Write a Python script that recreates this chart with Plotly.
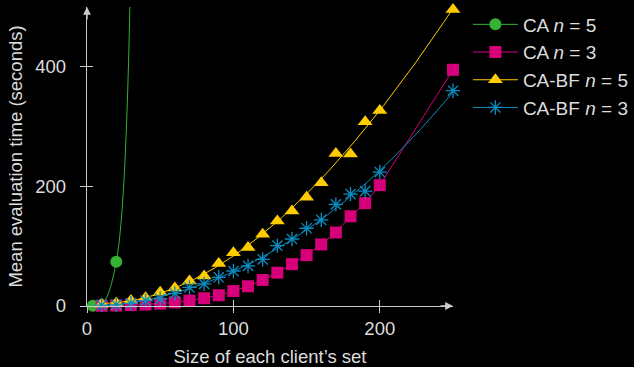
import numpy as np
import plotly.graph_objects as go

# Set sizes (per client) and mean evaluation times in seconds
ca5_x = [4, 10, 20, 30]
ca5_y = [0.5, 2, 74, 600]

sizes = [10, 20, 30, 40, 50, 60, 70, 80, 90, 100, 110, 120, 130, 140, 150,
         160, 170, 180, 190, 200, 250]
ca3_y = [0.3, 0.8, 1.5, 2.5, 4, 6, 9, 13, 18, 25, 33, 43.5, 55.7, 70, 85,
         103, 123, 150, 172, 202, 395]
cabf5_y = [3, 5, 9, 14, 23, 30, 42, 50, 71, 89, 98, 120, 142, 159, 182,
           206, 255, 254, 308, 327, 496]
cabf3_y = [1.5, 2, 4.5, 9, 12, 21, 31, 37, 48, 58.5, 67, 78, 101, 112, 130,
           144, 170, 187, 192, 224, 360]

x_ticks = [0, 100, 200]
y_ticks = [0, 200, 400]

GREEN = "#33b233"
MAGENTA = "#d6007a"
GOLD = "#ffcc00"
BLUE = "#0b8cbf"
AXIS = "#cccccc"
TEXT = "#dddddd"
FONT = "Liberation Sans, Arial, sans-serif"

fig = go.Figure()

# CA n=5: smooth curve through the measurements
fig.add_trace(go.Scatter(
    x=ca5_x, y=ca5_y, mode="lines+markers", line=dict(color=GREEN, width=1, shape="spline"),
    marker=dict(symbol="circle", size=12, color=GREEN), cliponaxis=False,
    name="CA <i>n</i> = 5", showlegend=False, legendgroup="ca5"))

# CA n=3: straight segments between measurements
fig.add_trace(go.Scatter(
    x=sizes, y=ca3_y, mode="lines+markers", line=dict(color=MAGENTA, width=1),
    marker=dict(symbol="square", size=12, color=MAGENTA), cliponaxis=False,
    name="CA <i>n</i> = 3", showlegend=False, legendgroup="ca3"))

# CA-BF series: cubic least-squares trend plus the measured points
dense = np.linspace(min(sizes), max(sizes), 300)
for ys, color, symbol, size, name, grp in [
    (cabf5_y, GOLD, "triangle-up", 13, "CA-BF <i>n</i> = 5", "bf5"),
    (cabf3_y, BLUE, "asterisk-open", 12, "CA-BF <i>n</i> = 3", "bf3"),
]:
    coef = np.polyfit(sizes, ys, 3)
    fig.add_trace(go.Scatter(
        x=dense, y=np.polyval(coef, dense), mode="lines",
        line=dict(color=color, width=1), showlegend=False, legendgroup=grp,
        hoverinfo="skip"))
    marker = dict(symbol=symbol, size=size, color=color)
    if symbol.endswith("open"):
        marker["line"] = dict(color=color, width=1.3)
    fig.add_trace(go.Scatter(
        x=sizes, y=ys, mode="markers", marker=marker, cliponaxis=False,
        name=name, showlegend=False, legendgroup=grp))

# Legend entries (line + marker samples), placed on the overlay axes
for color, symbol, size, name, grp in [
    (GREEN, "circle", 12, "CA <i>n</i> = 5", "ca5"),
    (MAGENTA, "square", 12, "CA <i>n</i> = 3", "ca3"),
    (GOLD, "triangle-up", 13, "CA-BF <i>n</i> = 5", "bf5"),
    (BLUE, "asterisk-open", 12, "CA-BF <i>n</i> = 3", "bf3"),
]:
    marker = dict(symbol=symbol, size=size, color=color)
    if symbol.endswith("open"):
        marker["line"] = dict(color=color, width=1.3)
    fig.add_trace(go.Scatter(
        x=[None], y=[None], mode="lines+markers", line=dict(color=color, width=1),
        marker=marker, name=name, legendgroup=grp, xaxis="x2", yaxis="y2"))

axis_common = dict(showgrid=False, zeroline=False, showline=True, linecolor=AXIS,
                   linewidth=1.3, ticks="outside", ticklen=6, tickwidth=1.3,
                   tickcolor=AXIS, automargin=False,
                   tickfont=dict(size=18.5, color=TEXT, family=FONT))

fig.update_layout(
    width=634, height=367,
    margin=dict(l=87, r=181, t=7, b=61),
    paper_bgcolor="black", plot_bgcolor="black",
    font=dict(family=FONT, size=18, color=TEXT),
    xaxis=dict(range=[0, 250], tickvals=x_ticks, ticklabelstandoff=0,
               title=dict(text="Size of each client\u2019s set", standoff=13,
                          font=dict(size=18.5, color=TEXT)),
               **axis_common),
    yaxis=dict(range=[0, 500], tickvals=y_ticks, ticklabelstandoff=10,
               title=dict(text="Mean evaluation time (seconds)", standoff=7,
                          font=dict(size=18.5, color=TEXT)),
               **axis_common),
    # mirror axes carrying the inner half of each crossing tick
    xaxis2=dict(overlaying="x", matches="x", anchor="y2", tickvals=x_ticks,
                ticks="inside", ticklen=6, tickwidth=1.3, tickcolor=AXIS,
                showticklabels=False, showgrid=False, zeroline=False, showline=False),
    yaxis2=dict(overlaying="y", matches="y", anchor="x2", tickvals=y_ticks,
                ticks="inside", ticklen=6, tickwidth=1.3, tickcolor=AXIS,
                showticklabels=False, showgrid=False, zeroline=False, showline=False),
    legend=dict(xref="container", yref="container", x=0.738, y=0.985,
                xanchor="left", yanchor="top", bgcolor="rgba(0,0,0,0)",
                font=dict(size=19, color=TEXT, family=FONT), itemwidth=45,
                tracegroupgap=0),
    showlegend=True,
)

# arrowheads on the axes
fig.add_annotation(x=250, y=0, xref="x", yref="y", ax=-14, ay=0, text="",
                   showarrow=True, arrowhead=2, arrowsize=1.2, arrowwidth=1.3,
                   arrowcolor=AXIS)
fig.add_annotation(x=0, y=500, xref="x", yref="y", ax=0, ay=14, text="",
                   showarrow=True, arrowhead=2, arrowsize=1.2, arrowwidth=1.3,
                   arrowcolor=AXIS)

fig.write_html("out.html")
